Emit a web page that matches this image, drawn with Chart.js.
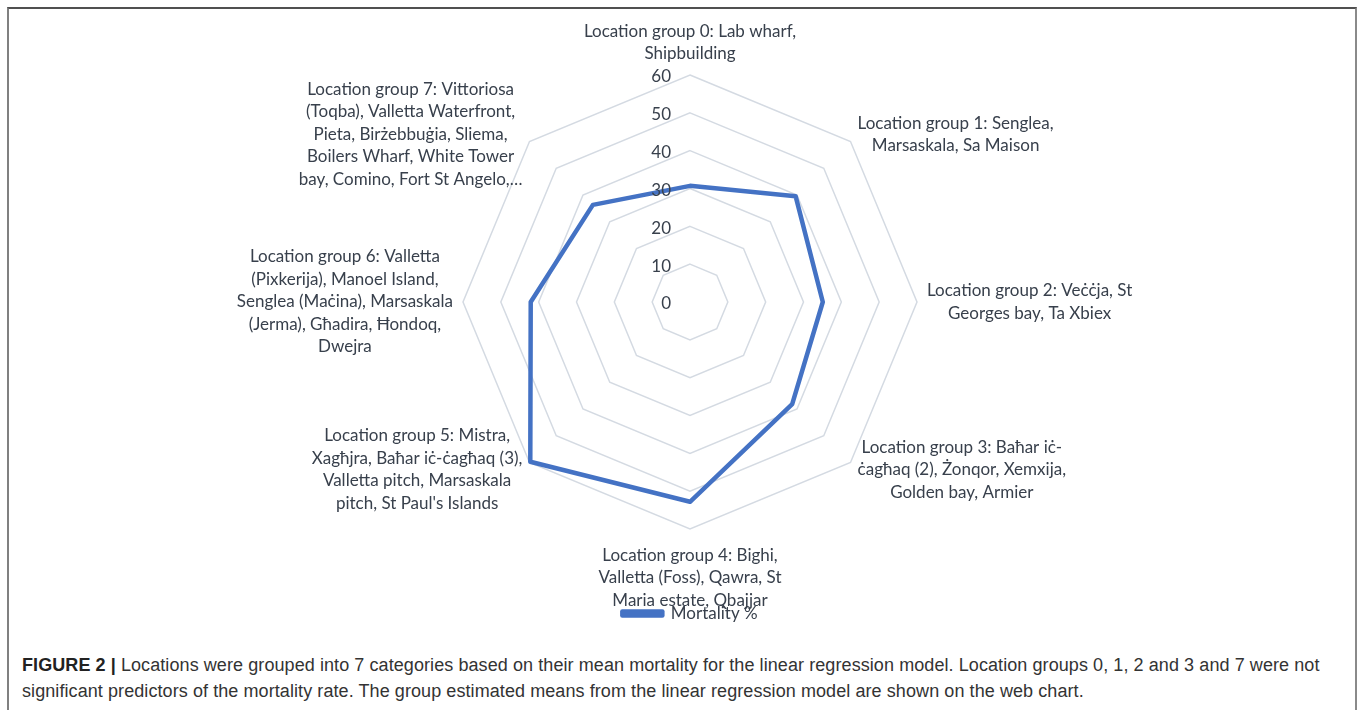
<!DOCTYPE html>
<html>
<head>
<meta charset="utf-8">
<script src="https://cdn.jsdelivr.net/npm/chart.js@4.4.1/dist/chart.umd.min.js"></script>
<style>
  html, body { margin: 0; padding: 0; background: #fff; }
  body { width: 1358px; height: 710px; position: relative; overflow: hidden; }
  .frame {
    position: absolute; left: 7px; top: 7px; width: 1346px; height: 720px;
    border-top: 2px solid #505050; border-left: 2px solid #808080; border-right: 2px solid #8a8a8a;
  }
  .chartBox { position: absolute; left: 0; top: 0; width: 1358px; height: 632px; }
  .caption {
    position: absolute; left: 22px; top: 652px; width: 1320px;
    font-family: "Liberation Sans", Arial, sans-serif; font-size: 18px; line-height: 26px;
    letter-spacing: 0.08px; color: #333; white-space: nowrap;
  }
  .caption b { color: #222; }
</style>
</head>
<body>
<div class="frame"></div>
<div class="chartBox"><canvas id="radar"></canvas></div>
<div class="caption"><b>FIGURE 2 |</b> Locations were grouped into 7 categories based on their mean mortality for the linear regression model. Location groups 0, 1, 2 and 3 and 7 were not<br>significant predictors of the mortality rate. The group estimated means from the linear regression model are shown on the web chart.</div>
<script>
const categories = [
  ["Location group 0: Lab wharf,", "Shipbuilding"],
  ["Location group 1: Senglea,", "Marsaskala, Sa Maison"],
  ["Location group 2: Veċċja, St", "Georges bay, Ta Xbiex"],
  ["Location group 3: Baħar iċ-", "ċagħaq (2), Żonqor, Xemxija,", "Golden bay, Armier"],
  ["Location group 4: Bighi,", "Valletta (Foss), Qawra, St", "Maria estate, Qbajjar"],
  ["Location group 5: Mistra,", "Xagħjra, Baħar iċ-ċagħaq (3),", "Valletta pitch, Marsaskala", "pitch, St Paul's Islands"],
  ["Location group 6: Valletta", "(Pixkerija), Manoel Island,", "Senglea (Maċina), Marsaskala", "(Jerma), Għadira, Ħondoq,", "Dwejra"],
  ["Location group 7: Vittoriosa", "(Toqba), Valletta Waterfront,", "Pieta, Birżebbuġia, Sliema,", "Boilers Wharf, White Tower", "bay, Comino, Fort St Angelo,…"]
];
const mortality = [30.7, 39.5, 35.1, 38.2, 52.8, 59.7, 42.1, 36.3];
const tickValues = [0, 10, 20, 30, 40, 50, 60];
const seriesName = "Mortality %";

let colorLine = "#4472c4";
let colorText = "#38404c";
let colorGrid = "#d4dae2";
let labelFont = '17px Lato, "Open Sans", sans-serif';

// labels and tick numbers drawn by hand so they sit like the Excel original
const excelLabels = {
  id: "excelLabels",
  afterDraw(chart) {
    let ctx = chart.ctx;
    let r = chart.scales.r;
    let lh = 22.5;
    ctx.save();
    ctx.font = labelFont;
    ctx.fillStyle = colorText;
    ctx.textAlign = "center";
    ctx.textBaseline = "middle";
    chart.data.labels.forEach((lines, i) => {
      let p = r.getPointPosition(i, r.drawingArea + 10);
      let w = Math.max(...lines.map((l) => ctx.measureText(l).width));
      let h = lines.length * lh;
      let angle = (i * 360) / chart.data.labels.length;
      let cx, top;
      if (angle === 0) { cx = p.x; top = p.y - h; }
      else if (angle === 180) { cx = p.x; top = p.y + 5; }
      else if (angle < 180) { cx = p.x + w / 2; top = p.y - h / 2; }
      else { cx = p.x - w / 2; top = p.y - h / 2; }
      lines.forEach((l, k) => ctx.fillText(l, cx, top + lh * (k + 0.5)));
    });
    ctx.textAlign = "right";
    tickValues.forEach((v) => {
      let y = r.yCenter - r.getDistanceFromCenterForValue(v);
      ctx.fillText(String(v), r.xCenter - 19, y + 2);
    });
    ctx.restore();
  },
};

new Chart(document.getElementById("radar"), {
  type: "radar",
  data: {
    labels: categories,
    datasets: [
      {
        label: seriesName,
        data: mortality,
        borderColor: colorLine,
        backgroundColor: colorLine,
        borderWidth: 4.5,
        borderJoinStyle: "round",
        fill: false,
        pointRadius: 0,
        pointHoverRadius: 0,
      },
    ],
  },
  options: {
    responsive: true,
    maintainAspectRatio: false,
    animation: false,
    layout: { padding: { left: 22, right: 0, top: 75, bottom: 0 } },
    plugins: {
      legend: {
        position: "bottom",
        labels: {
          boxWidth: 40,
          boxHeight: 4,
          padding: 75,
          color: colorText,
          font: { family: 'Lato, "Open Sans", sans-serif', size: 17 },
        },
      },
      tooltip: { enabled: false },
    },
    scales: {
      r: {
        min: 0,
        max: 60,
        ticks: { stepSize: 10, display: false },
        grid: { color: colorGrid, lineWidth: 1.5 },
        angleLines: { display: false },
        pointLabels: { display: false },
      },
    },
  },
  plugins: [excelLabels],
});
</script>
</body>
</html>
